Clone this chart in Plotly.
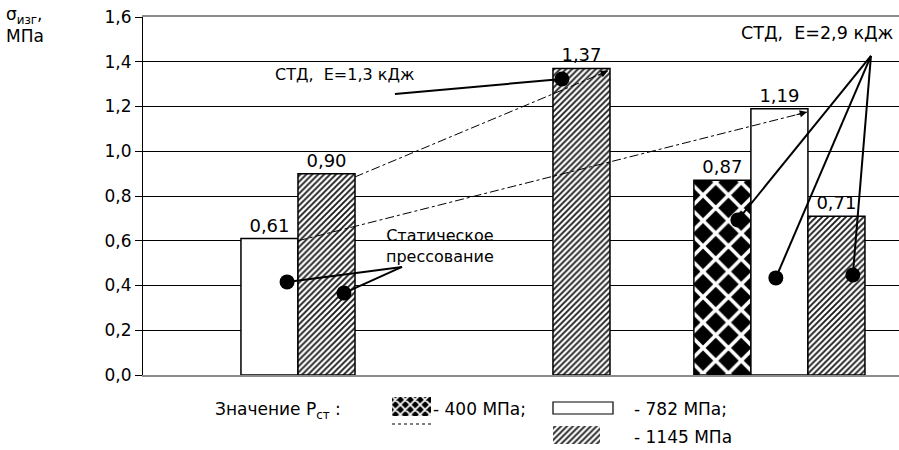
import plotly.graph_objects as go

# Bending strength of samples by compaction method and static pressure
groups = ["Статическое прессование", "СТД, Е=1,3 кДж", "СТД, Е=2,9 кДж"]
pressure_labels = ["- 400 МПа;", "- 782 МПа;", "- 1145 МПа"]
sigma_400 = [None, None, 0.87]
sigma_782 = [0.61, None, 1.19]
sigma_1145 = [0.90, 1.37, 0.71]
y_ticks = [0.0, 0.2, 0.4, 0.6, 0.8, 1.0, 1.2, 1.4, 1.6]

FONT = "DejaVu Sans"
W, H = 899, 450
MARGIN_L, MARGIN_T = 143, 17
PLOT_BOTTOM = 375  # page pixel row of the value axis zero
main_dom0 = (H - PLOT_BOTTOM) / (H - MARGIN_T)

xpos = list(range(len(groups)))

outline = dict(color="black", width=1.5)
hatch = dict(shape="/", fgcolor="#1a1a1a", bgcolor="white", size=4.2, solidity=0.45)
checker = dict(shape="x", fgcolor="white", bgcolor="black", size=18, solidity=0.36)

fig = go.Figure()
series = [
    (sigma_400, dict(color="black", pattern=checker, line=outline)),
    (sigma_782, dict(color="white", line=outline)),
    (sigma_1145, dict(color="white", pattern=hatch, line=outline)),
]
for vals, marker in series:
    fig.add_trace(go.Bar(
        x=xpos, y=vals, marker=marker,
        texttemplate="%{y:.2f}", textposition="outside",
        textfont=dict(family=FONT, size=18, color="black"),
        cliponaxis=False, showlegend=False, hoverinfo="skip",
    ))

# callout dots placed on the bars
dots_x = [0.069, 0.292, 1.147, 1.837, 1.986, 2.288]
dots_y = [0.416, 0.366, 1.323, 0.693, 0.434, 0.447]
fig.add_trace(go.Scatter(
    x=dots_x, y=dots_y, mode="markers",
    marker=dict(color="black", size=15),
    showlegend=False, hoverinfo="skip", cliponaxis=False,
))

# legend swatches drawn on a helper axis in page-pixel units
swatches = [
    # (left, top, width, height, marker)
    (392, 397, 39, 19, dict(color="black", line=dict(width=0),
                             pattern=dict(shape="x", fgcolor="white", bgcolor="black",
                                          size=7, solidity=0.42))),
    (553, 402, 60, 12, dict(color="white", line=dict(color="black", width=1.2))),
    (553, 426, 47, 18, dict(color="white", line=dict(width=0), pattern=hatch)),
]
for left, top, w, h, marker in swatches:
    fig.add_trace(go.Bar(
        x=[left], y=[h], base=[top], width=[w], offset=0,
        xaxis="x2", yaxis="y2", marker=marker,
        showlegend=False, hoverinfo="skip",
    ))

shapes = []
line_style = dict(color="black", width=2)
# Static pressing callout
for dx, dy in [(0.069, 0.416), (0.292, 0.366)]:
    shapes.append(dict(type="line", xref="x", yref="y", x0=0.520, y0=0.483,
                       x1=dx, y1=dy, line=line_style))
# STD 1.3 kJ callout
shapes.append(dict(type="line", xref="x", yref="y", x0=0.492, y0=1.256,
                   x1=1.147, y1=1.323, line=line_style))
# STD 2.9 kJ callout
for dx, dy in [(1.837, 0.693), (1.986, 0.434), (2.288, 0.447)]:
    shapes.append(dict(type="line", xref="x", yref="y", x0=2.359, y0=1.426,
                       x1=dx, y1=dy, line=line_style))
# dash-dot trend arrows
trend = [((0.335, 0.885), (1.327, 1.359)), ((0.112, 0.60), (2.108, 1.175))]
for (xa, ya), (xb, yb) in trend:
    shapes.append(dict(type="line", xref="x", yref="y", x0=xa, y0=ya, x1=xb, y1=yb,
                       line=dict(color="black", width=1, dash="dashdot")))
# dotted rule under the checker swatch
shapes.append(dict(type="line", xref="x2", yref="y2", x0=392, y0=424, x1=431, y1=424,
                   line=dict(color="black", width=1, dash="dot")))

def px(xp):
    return (xp - MARGIN_L) / (W - MARGIN_L)

def py(yp):
    return (H - yp) / (H - MARGIN_T)

annotations = [
    dict(text="σ<sub>изг</sub>,<br>МПа", xref="paper", yref="paper", x=px(4), y=py(2),
         xanchor="left", yanchor="top", align="left", showarrow=False,
         font=dict(family=FONT, size=17, color="black")),
    dict(text="СТД,  Е=1,3 кДж", xref="x", yref="y", x=0.296, y=1.341,
         showarrow=False, font=dict(family=FONT, size=16, color="black")),
    dict(text="СТД,  Е=2,9 кДж", xref="x", yref="y", x=2.151, y=1.528,
         showarrow=False, font=dict(family=FONT, size=17.5, color="black")),
    dict(text="Статическое<br>прессование", xref="x", yref="y", x=0.669, y=0.577,
         showarrow=False, font=dict(family=FONT, size=16, color="black")),
    dict(text="Значение Р<sub>ст</sub> :", xref="paper", yref="paper", x=px(213), y=py(410),
         xanchor="left", yanchor="middle", showarrow=False,
         font=dict(family=FONT, size=17, color="black")),
    dict(text=pressure_labels[0], xref="paper", yref="paper", x=px(431), y=py(409),
         xanchor="left", yanchor="middle", showarrow=False,
         font=dict(family=FONT, size=17, color="black")),
    dict(text=pressure_labels[1], xref="paper", yref="paper", x=px(632), y=py(409),
         xanchor="left", yanchor="middle", showarrow=False,
         font=dict(family=FONT, size=17, color="black")),
    dict(text=pressure_labels[2], xref="paper", yref="paper", x=px(632), y=py(437),
         xanchor="left", yanchor="middle", showarrow=False,
         font=dict(family=FONT, size=17, color="black")),
]
# arrowheads at the ends of the dash-dot lines
for (xa, ya), (xb, yb), (ax, ay) in [(*trend[0], (-11, 5)), (*trend[1], (-12, 3))]:
    annotations.append(dict(x=xb, y=yb, xref="x", yref="y", ax=ax, ay=ay,
                            showarrow=True, arrowhead=2, arrowsize=1.2,
                            arrowwidth=1.2, arrowcolor="black", text=""))

fig.update_layout(
    template="none",
    width=W, height=H,
    margin=dict(l=MARGIN_L, r=0, t=MARGIN_T, b=0, pad=0, autoexpand=False),
    paper_bgcolor="white", plot_bgcolor="white",
    barmode="group", bargap=0.329, bargroupgap=0,
    separators=", ",
    hovermode=False,
    shapes=shapes, annotations=annotations,
    xaxis=dict(range=[-0.496, 2.469], showticklabels=False, ticks="",
               showgrid=False, zeroline=False, showline=True, mirror=True,
               linecolor="#8c8c8c", linewidth=2, automargin=False),
    yaxis=dict(domain=[main_dom0, 1], range=[0, 1.6], tickvals=y_ticks,
               tickformat=".1f", showgrid=True, gridcolor="black", gridwidth=1,
               zeroline=False, showline=True, linecolor="black", linewidth=1,
               ticks="outside", ticklen=7, tickcolor="black", automargin=False,
               tickfont=dict(family=FONT, size=17, color="black")),
    xaxis2=dict(domain=[0, 1], range=[MARGIN_L, W], anchor="y2", visible=False,
                automargin=False),
    yaxis2=dict(domain=[0, main_dom0], range=[H, PLOT_BOTTOM], anchor="x2",
                visible=False, automargin=False),
    font=dict(family=FONT, color="black"),
)

fig.write_html("out.html")
